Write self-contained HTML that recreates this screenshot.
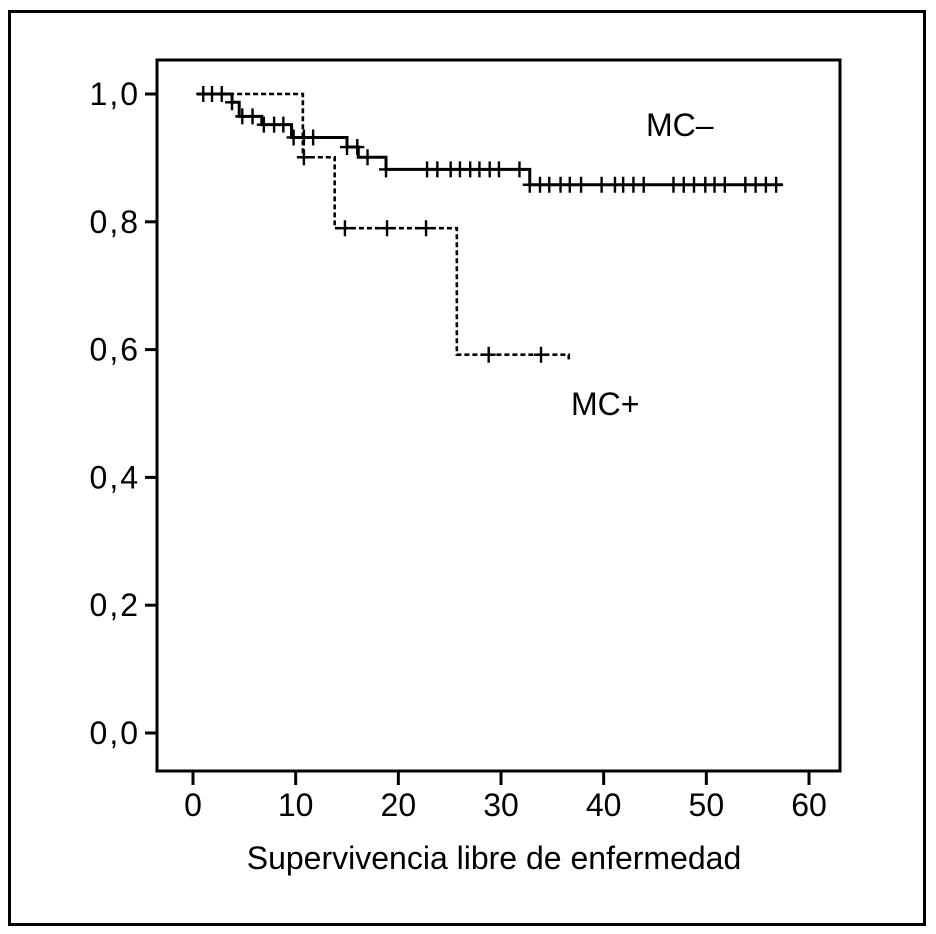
<!DOCTYPE html>
<html><head><meta charset="utf-8"><style>
html,body{margin:0;padding:0;background:#fff;}
svg{display:block;font-family:"Liberation Sans",Arial,sans-serif;}
</style></head><body>
<svg id="chart" width="936" height="934" viewBox="0 0 936 934">
<rect x="9.5" y="11.5" width="915" height="913" fill="none" stroke="#000" stroke-width="3"/>
<rect x="157" y="60" width="683" height="711" fill="none" stroke="#000" stroke-width="3"/>
<g id="axes"></g>
<g id="series"></g>
<text x="646" y="136" font-size="32">MC–</text>
<text x="571" y="415" font-size="32">MC+</text>
<text x="494" y="869" font-size="32" text-anchor="middle">Supervivencia libre de enfermedad</text>
</svg>
<script>
const xTicks=[0,10,20,30,40,50,60];
const yTicks=[0,0.2,0.4,0.6,0.8,1.0];
const yTickLabels=["0,0","0,2","0,4","0,6","0,8","1,0"];
// MC- (solid): step times and survival after each step
const negStart=0.4;
const negStepTimes=[3.8,4.5,6.7,9.6,15.0,16.1,18.8,32.8];
const negStepValues=[0.987,0.965,0.952,0.932,0.917,0.901,0.882,0.858];
const negEnd=57.4;
const negCensor=[1.0,1.85,2.8,3.8,4.8,5.8,6.9,7.9,8.8,9.8,10.8,11.7,15.0,16.0,17.0,18.8,22.8,23.8,25.1,26.0,27.0,27.9,28.9,29.8,31.8,32.8,33.8,34.7,35.8,36.7,37.8,39.8,41.1,41.9,42.9,43.9,46.8,47.8,48.8,49.9,50.8,51.8,53.8,54.8,55.8,56.8];
// MC+ (dashed)
const posStart=0.4;
const posStepTimes=[10.7,13.8,25.7];
const posStepValues=[0.901,0.790,0.592];
const posEnd=36.6;
const posCensor=[10.8,14.8,18.9,22.7,28.8,33.9];

const NS="http://www.w3.org/2000/svg";
const X=t=>193+t*(809-193)/60;
const Y=s=>733-s*(733-94);
function mk(tag,attrs,parent){const e=document.createElementNS(NS,tag);for(const k in attrs)e.setAttribute(k,attrs[k]);parent.appendChild(e);return e;}
const axes=document.getElementById('axes');
xTicks.forEach((t,i)=>{
  const l=mk('line',{x1:X(t),x2:X(t),y1:771,y2:785,stroke:'#000','stroke-width':3},axes);
  
  
  const tx=mk('text',{x:X(t),y:816,'font-size':32,'text-anchor':'middle'},axes);
  tx.textContent=String(t);
  
  
});
yTicks.forEach((v,i)=>{
  const l=mk('line',{x1:145,x2:157,y1:Y(v),y2:Y(v),stroke:'#000','stroke-width':3},axes);
  
  
  const tx=mk('text',{x:140,y:Y(v)+11,'font-size':32,'text-anchor':'end','letter-spacing':'2'},axes);
  tx.textContent=yTickLabels[i];
  
  
});
function levelAt(t,start,times,vals){let s=1;for(let i=0;i<times.length;i++){if(times[i]<=t)s=vals[i];}return s;}
function drawSeries(name,start,times,vals,end,cens,dash,extraEnd){
  const g=document.getElementById('series');
  let d='M'+X(start)+','+Y(1);let s=1;
  times.forEach((t,i)=>{d+=' H'+X(t)+' V'+Y(vals[i]);s=vals[i];});
  d+=' H'+X(end);
  if(extraEnd)d+=' V'+(Y(s)+6);
  const p=mk('path',{d:d,fill:'none',stroke:'#000','stroke-width':dash?2.6:3,'stroke-dasharray':dash?'5 3':'none'},g);
  
  
  cens.forEach(t=>{
    const v=levelAt(t,start,times,vals);
    const c=mk('path',{d:'M'+(X(t)-7)+','+Y(v)+' H'+(X(t)+7)+' M'+X(t)+','+(Y(v)-8)+' V'+(Y(v)+8),stroke:'#000','stroke-width':2.4,fill:'none'},g);
    
    
  });
}
drawSeries('mc-pos',posStart,posStepTimes,posStepValues,posEnd,posCensor,true,true);
drawSeries('mc-neg',negStart,negStepTimes,negStepValues,negEnd,negCensor,false,false);
</script>
</body></html>
